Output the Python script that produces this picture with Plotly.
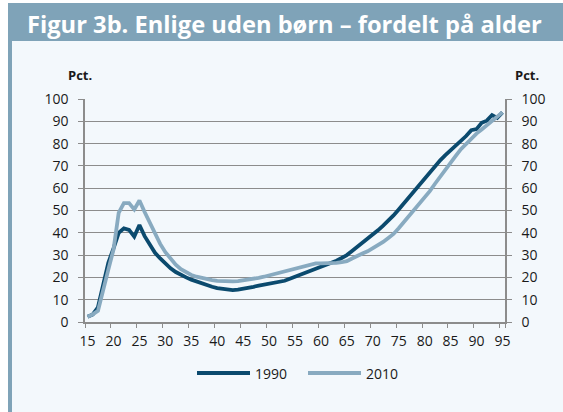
import plotly.graph_objects as go

ages = list(range(15, 96))

pct_1990 = [2.4, 3.4, 6.6, 17.6, 26.6, 33, 40, 42, 41.3, 38.3,
            43.5, 38.5, 34.5, 31, 28.5, 26, 24.1, 22.4, 21.1, 20,
            19, 18.1, 17.2, 16.4, 15.8, 15.2, 14.8, 14.5, 14.3, 14.5,
            14.8, 15.4, 15.8, 16.3, 16.7, 17.2, 17.6, 17.9, 18.5, 19.4,
            20.3, 21.1, 21.7, 22.7, 23.8, 24.8, 25.6, 26.5, 27.5, 28.7,
            30, 31.8, 33.6, 35.3, 37.2, 39.1, 41.1, 43.2, 45.4, 47.8,
            50.5, 53.3, 56.2, 59, 61.4, 64, 66.8, 69.7, 72.5, 74.8,
            76.9, 79, 81.1, 83.4, 86, 86.5, 89.3, 90.3, 92.8, 91.5,
            94]

pct_2010 = [2.4, 3.4, 5, 13.5, 23.5, 32.5, 49, 53.3, 53.3, 50.5,
            54.5, 49.3, 44.5, 39.5, 35, 31.3, 28.2, 25.7, 23.7, 22.2,
            21.1, 20.3, 19.7, 19.2, 18.8, 18.4, 18.2, 18.1, 18.2, 18.3,
            18.6, 19, 19.4, 19.8, 20.3, 20.9, 21.5, 22.2, 22.8, 23.3,
            24, 24.5, 25.2, 26, 26.3, 26.3, 26.3, 26.3, 26.5, 26.8,
            27.3, 28.5, 29.8, 30.7, 31.7, 33, 34.4, 35.9, 37.7, 39.5,
            42, 44.7, 47.3, 50, 52.8, 55.7, 58.7, 62, 65.3, 68.5,
            71.3, 74.5, 77.5, 80, 82.5, 84.5, 86.3, 88.2, 90, 92,
            94]

x_tick_labels = [str(a) for a in range(15, 96, 5)]
series_names = ["1990", "2010"]
title_text = "Figur 3b. Enlige uden børn – fordelt på alder"
unit_text = "Pct."

DARK = "#0b4a6e"
LIGHT = "#88aac0"
BAR = "#7fa3b8"
BG = "#f3f8fc"
GRID = "#8c8c8c"
TXT = "#1a1a1a"
FONT = "Open Sans"

W, H = 563, 412
L, R, T, B = 85, 505, 99, 322


def px(x):
    return (x - L) / (R - L)


def py(y):
    return (B - y) / (B - T)


fig = go.Figure()
fig.add_trace(go.Scatter(x=ages, y=pct_1990, mode="lines", name=series_names[0],
                         line=dict(color=DARK, width=3.8), showlegend=False))
fig.add_trace(go.Scatter(x=ages, y=pct_2010, mode="lines", name=series_names[1],
                         line=dict(color=LIGHT, width=3.8), showlegend=False))

axis_common = dict(
    range=[0, 100], dtick=10, tick0=0,
    showgrid=True, gridcolor=GRID, gridwidth=1.3,
    showline=True, linecolor=GRID, linewidth=1.5,
    ticks="outside", ticklen=5, tickcolor=GRID, tickwidth=1.3,
    tickfont=dict(family=FONT, size=14, color=TXT),
    zeroline=False, fixedrange=True,
)

fig.update_layout(
    width=W, height=H,
    margin=dict(l=L, r=W - R, t=T, b=H - B, pad=0),
    paper_bgcolor="white",
    plot_bgcolor="rgba(0,0,0,0)",
    showlegend=False,
    xaxis=dict(
        type="category", range=[-0.5, len(ages) - 0.5],
        tickmode="array", tickvals=[int(v) for v in x_tick_labels],
        ticktext=x_tick_labels, tickson="boundaries", tickangle=0,
        showgrid=False, showline=True, linecolor=GRID, linewidth=1.5,
        ticks="outside", ticklen=4, tickcolor=GRID, tickwidth=1.3,
        tickfont=dict(family=FONT, size=14, color=TXT),
        ticklabelstandoff=5, zeroline=False, automargin=False, fixedrange=True,
    ),
    yaxis=dict(**axis_common, ticklabelstandoff=7, automargin=False),
    yaxis2=dict(**axis_common, overlaying="y", side="right", matches="y",
                ticklabelstandoff=7, automargin=False),
)
# invisible trace to anchor right axis
fig.add_trace(go.Scatter(x=[ages[0]], y=[None], yaxis="y2", showlegend=False,
                         hoverinfo="skip"))

shapes = [
    dict(type="rect", xref="paper", yref="paper", x0=px(12), x1=px(W), y0=py(41), y1=py(H),
         fillcolor=BG, line=dict(width=0), layer="below"),
    dict(type="rect", xref="paper", yref="paper", x0=px(12), x1=px(W), y0=py(3), y1=py(41),
         fillcolor=BAR, line=dict(width=0), layer="below"),
    dict(type="rect", xref="paper", yref="paper", x0=px(8), x1=px(12), y0=py(3), y1=py(H),
         fillcolor=BAR, line=dict(width=0), layer="below"),
    dict(type="line", xref="paper", yref="paper", x0=px(197), x1=px(250), y0=py(373), y1=py(373),
         line=dict(color=DARK, width=4)),
    dict(type="line", xref="paper", yref="paper", x0=px(308), x1=px(361), y0=py(373), y1=py(373),
         line=dict(color=LIGHT, width=4)),
]

annotations = [
    dict(text="<b>" + title_text + "</b>", xref="paper", yref="paper", x=px(25), y=py(24),
         xanchor="left", yanchor="middle", showarrow=False,
         font=dict(family=FONT, size=23.7, color="white")),
    dict(text="<b>" + unit_text + "</b>", xref="paper", yref="paper", x=px(80), y=py(75),
         xanchor="center", yanchor="middle", showarrow=False,
         font=dict(family=FONT, size=13, color=TXT)),
    dict(text="<b>" + unit_text + "</b>", xref="paper", yref="paper", x=px(527), y=py(75),
         xanchor="center", yanchor="middle", showarrow=False,
         font=dict(family=FONT, size=13, color=TXT)),
    dict(text=series_names[0], xref="paper", yref="paper", x=px(253), y=py(373),
         xanchor="left", yanchor="middle", showarrow=False,
         font=dict(family=FONT, size=14, color=TXT)),
    dict(text=series_names[1], xref="paper", yref="paper", x=px(364), y=py(373),
         xanchor="left", yanchor="middle", showarrow=False,
         font=dict(family=FONT, size=14, color=TXT)),
]

fig.update_layout(shapes=shapes, annotations=annotations)
fig.write_html("out.html", config={"displayModeBar": False},
               post_script="document.body.style.margin='0px';")
